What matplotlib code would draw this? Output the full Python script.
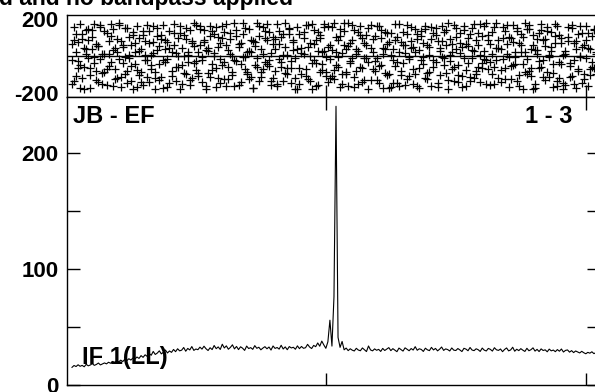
import numpy as np
import matplotlib
matplotlib.use('Agg')
import matplotlib.pyplot as plt

# amplitude spectrum, one value per channel
amplitude = [
    15.2, 16.8, 15.9, 17.4, 16.1, 16.9, 15.7, 17.8, 16.5, 17.2, 18.4, 16.9, 17.7, 18.9, 17.3, 18.1,
    19.0, 18.2, 19.6, 18.7, 20.3, 19.1, 20.8, 19.9, 21.4, 20.2, 22.1, 21.0, 22.6, 21.5, 23.2, 22.4,
    24.1, 22.9, 25.3, 23.8, 26.0, 24.7, 27.2, 25.6, 28.9, 26.3, 27.5, 29.4, 26.8, 28.2, 30.1, 27.6,
    29.3, 28.1, 30.6, 28.7, 31.2, 29.4, 30.0, 32.3, 29.1, 31.5, 30.2, 33.1, 29.8, 31.0, 30.4, 32.6,
    30.9, 33.4, 31.2, 29.7, 32.1, 30.5, 34.0, 31.3, 32.8, 30.6, 35.1, 31.9, 33.7, 30.8, 32.4, 34.6,
    31.1, 33.2, 30.5, 32.9, 31.7, 29.8, 33.5, 31.4, 32.2, 30.7, 33.9, 31.6, 32.5, 30.3, 31.8, 33.0,
    31.2, 32.7, 30.1, 33.6, 31.5, 32.3, 30.9, 34.2, 31.0, 32.8, 30.4, 33.1, 31.9, 32.5, 30.8, 33.7,
    31.3, 33.2, 31.6, 32.1, 35.0, 32.7, 31.4, 34.1, 33.0, 36.2, 33.4, 37.8, 34.5, 31.6,
    37.2, 55.8, 33.5, 76.0, 240.0, 41.0, 32.4, 37.5, 30.3, 31.8, 29.6, 31.2, 30.0, 29.3, 31.6, 30.1,
    29.5, 31.9, 30.4, 28.8, 33.6, 30.2, 29.4, 31.1, 29.9, 30.7, 28.9, 31.5, 29.7, 30.9, 32.2, 29.6,
    31.3, 30.0, 28.7, 31.8, 30.5, 29.2, 32.0, 30.8, 29.5, 31.4, 30.1, 33.0, 29.9, 31.2, 30.6, 28.9,
    31.7, 30.3, 29.6, 32.4, 30.2, 31.5, 29.4, 30.8, 32.7, 29.8, 31.1, 30.5, 29.3, 31.9, 30.0, 29.7,
    31.4, 30.2, 28.8, 31.6, 30.9, 29.5, 32.3, 30.1, 29.6, 31.2, 30.4, 28.9, 31.8, 30.0, 29.3, 31.5,
    30.7, 29.2, 32.1, 30.3, 29.8, 31.0, 28.7, 30.6, 31.9, 29.4, 30.2, 32.5, 29.1, 30.8, 29.6, 31.3,
    30.0, 28.9, 31.6, 29.5, 30.4, 32.0, 29.2, 30.7, 28.8, 31.1, 29.7, 30.3, 28.6, 30.9, 29.4, 30.1,
    28.7, 30.5, 29.1, 31.0, 28.4, 29.8, 30.2, 28.3, 29.6, 27.9, 29.3, 28.5, 27.6, 29.0, 27.8, 26.9,
    28.1, 27.4, 28.6, 27.0, 27.9,
]

# phases (degrees), three records per channel (upper panel)
phase_1 = [
    -152, 87, 23, -64, 171, -118, 45, 139, -9, -171, 102, -37, 66, -143, 158, 12,
    -88, 127, -55, 174, 31, -126, 93, -15, -167, 58, 149, -79, 4, -133, 116, -46,
    162, -101, 39, -158, 81, -22, 135, -70, 17, -179, 108, 53, -114, 167, -31, 74,
    -147, 19, 125, -62, 96, -176, 42, -93, 154, 7, -129, 83, -40, 170, -107, 61,
    -19, 143, -165, 28, 111, -74, -2, 157, -120, 68, -51, 132, -160, 35, 90, -84,
    177, -27, 50, -139, 119, -8, -98, 146, 24, -173, 77, -59, 164, -112, 13, 99,
    -44, 128, -155, 63, -81, 172, -14, 105, -136, 47, -67, 151, -28, 85, -178, 38,
    121, -95, 9, 166, -123, 71, -36, 140, -161, 26, 95, -76, 159, -5, -140, 57,
    -110, 178, -48, 84, -169, 14, 137, -89, 55, -26, 168, -116, 40, -149, 115, -63,
    73, -11, 150, -132, 22, -82, 161, -53, 100, -174, 36, 124, -97, 8, -144, 88,
    -34, 173, -103, 59, -157, 120, -18, 79, -72, 145, -165, 30, 109, -42, 163, -127,
    3, 92, -60, 153, -148, 45, -7, 131, -91, 176, -25, 67, -135, 104, -50, 15,
    -170, 141, -78, 52, 118, -12, -119, 86, -58, 175, -39, 27, -153, 112, 64, -99,
    156, -21, 43, -141, 98, -66, 170, -3, -124, 78, -45, 134, -162, 19, 101, -86,
    -16, 148, -108, 61, -175, 33, 126, -57, 89, -130, 158, -6, 47, -92, 172, -138,
    113, -41, 6, -159, 80, -115, 152, -24, 37, -80, 165, -146, 58, -13, 122, -71,
    -32, 147, -96,
]
phase_2 = [
    64, -137, 118, -29, -172, 91, -57, 12, 147, -104, 38, 175, -83, 56, -18, -150,
    133, -68, 9, 106, -163, 44, -121, 167, 79, -36, -96, 154, -11, 62, -177, 21,
    -75, 99, -142, 138, 4, -113, 71, -49, 160, -87, 30, -131, 115, -20, 86, -168,
    42, -108, 172, 16, -61, 127, -154, -1, 94, -34, 143, -120, 53, -77, 22, 165,
    -139, 76, 33, -94, 163, -45, 117, -170, 48, -15, 97, -127, 175, -60, 10, -102,
    -21, 110, -158, 70, -6, 150, -85, 29, -114, 81, -47, 178, -137, 40, -70, 136,
    171, -52, 18, -118, 93, -164, 66, -33, 121, -90, 3, 148, -144, 74, -10, -178,
    -63, 15, 129, -106, 50, -134, 174, -20, 87, -156, 113, -43, 26, -86, 161, -121,
    32, -75, 105, -4, 144, -152, 60, -100, 177, -38, 84, -166, 11, 128, -58, 98,
    -128, 57, -31, 169, -68, 107, -13, -145, 139, 41, -92, 65, -175, 123, -24, -56,
    104, -160, 78, -37, 14, 170, -110, 46, -152, 20, 93, -65, 135, -3, -118, 59,
    -87, 156, -23, 116, -166, 28, 82, -47, 141, -129, 5, -73, 170, 36, -101, 124,
    51, -9, -162, 97, -111, 149, 25, -80, 62, -143, 108, -17, 180, -69, -30, 132,
    -151, 43, 88, -76, 158, -125, 11, 103, -55, 166, -8, -134, 73, 119, -44, 23,
    -97, 167, -63, -179, 34, 90, -27, 142, -112, 55, -84, 7, 130, -168, 69, 162,
    -34, 95, -146, 13, 156, -54, -109, 72, -173, 118, -1, 48, -123, 85, -160, 37,
    110, -66, 20,
]
phase_3 = [
    -23, 158, -110, 75, -47, 121, -176, 37, 89, -63, 142, -8, -128, 54, 169, -94,
    11, -159, 83, -35, 146, -72, 20, 177, -114, 48, -3, -145, 103, -55, 131, 68,
    -166, 29, -89, 114, -24, 168, -140, 6, 77, -120, 152, -42, 92, -173, 39, -16,
    135, -79, 58, -134, 2, 160, -50, 113, -98, 24, -158, 70, 179, -27, -90, 145,
    -8, 89, -178, 46, -116, 133, 17, -66, 101, -147, 163, -30, 60, -124, 122, -2,
    -161, 140, 63, -42, 179, -70, 19, -125, 88, -173, 52, -10, 109, -88, 155, -31,
    86, -19, -133, 102, 40, -150, 137, -57, 7, 179, -98, 120, -64, 33, -117, 156,
    -152, 43, 96, -69, 168, -2, -179, 67, -36, 130, -85, 24, 175, -108, 49, -15,
    155, -124, 21, -57, 108, -95, 177, 36, -160, 70, -9, 143, -81, 28, 160, -140,
    -10, 116, -178, 45, 90, -27, -131, 160, -51, 9, 131, -103, 76, -166, 38, 173,
    -144, 24, -79, 131, 62, -123, -7, 155, 51, -95, 117, -173, -23, 71, 144, -92,
    50, -163, 127, -31, 79, -104, 164, -9, 58, -177, 93, 19, -61, 149, -140, 73,
    -108, 160, 67, -40, -133, 31, 172, -96, 124, 3, -65, 161, -22, 87, -157, 10,
    -61, 177, -120, 37, -15, 134, 65, -169, 99, -48, 21, 153, -104, 59, -178, 180,
    145, -82, 36, 112, -150, 9, -64, 175, -24, 92, 138, -111, 29, -46, 108, -165,
    -119, 70, -180, 26, 101, -37, 166, -149, 83, -72, -6, 125, -95, 162, 44, -103,
    -58, 141, 12,
]

title = 'd and no bandpass applied'
baseline_label = 'JB - EF'
stokes_label = 'IF 1(LL)'
range_label = '1 - 3'

W, H = 595, 392
TICKFONT = dict(family='Liberation Sans', weight='bold', size=16)
LABFONT = dict(family='Liberation Sans', weight='bold', size=17)


def box(x0, y0, x1, y1):
    # pixel box (from top-left) -> figure fraction
    return [x0 / W, 1 - y1 / H, (x1 - x0) / W, (y1 - y0) / H]


fig = plt.figure(figsize=(W / 100, H / 100), dpi=100)
ax_ph = fig.add_axes(box(67, 15, 599, 97))
ax_amp = fig.add_axes(box(67, 97, 599, 385))

xlim = (-1.46, 260.5)
xticks = [126, 254]

# --- phase panel ---
for ph in (phase_1, phase_2, phase_3):
    ch = np.arange(1, len(ph) + 1)
    ax_ph.plot(ch, ph, ls='none', marker='+', ms=5.5, mew=0.9, color='black')
ax_ph.axhline(0, color='black', lw=1)
ax_ph.set_xlim(*xlim)
ax_ph.set_ylim(-222, 222)
ax_ph.set_yticks([-200, 200])
ax_ph.set_yticklabels(['-200', '200'], fontdict=TICKFONT)
ax_ph.set_xticks(xticks)
ax_ph.set_xticklabels([])
ax_ph.tick_params(axis='y', length=0, pad=6)
ax_ph.tick_params(axis='x', direction='in', length=9, width=1)

# --- amplitude panel ---
ch = np.arange(1, len(amplitude) + 1)
ax_amp.plot(ch, amplitude, color='black', lw=0.8)
ax_amp.set_xlim(*xlim)
ax_amp.set_ylim(0, 248)
ax_amp.set_yticks([0, 100, 200])
ax_amp.set_yticks([50, 150], minor=True)
ax_amp.set_yticklabels(['0', '100', '200'], fontdict=TICKFONT)
ax_amp.set_xticks(xticks)
ax_amp.set_xticklabels([])
ax_amp.tick_params(axis='both', which='both', direction='in', length=9, width=1,
                   top=True, right=True, pad=6)

for ax in (ax_ph, ax_amp):
    for s in ax.spines.values():
        s.set_linewidth(1)

fig.text(73 / W, 1 - 123 / H, baseline_label, ha='left', va='baseline', **LABFONT)
fig.text(525 / W, 1 - 123 / H, range_label, ha='left', va='baseline', **LABFONT)
fig.text(82 / W, 1 - 364 / H, stokes_label, ha='left', va='baseline', **LABFONT)
fig.text(293 / W, 1 - 5 / H, title, ha='right', va='baseline',
         family='Liberation Sans', weight='bold', size=16.5)

fig.savefig('out.png', dpi=100)
